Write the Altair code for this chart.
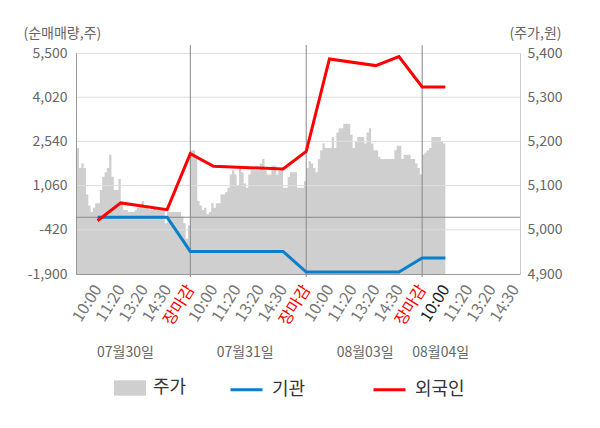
import altair as alt
import pandas as pd

FONT = "Noto Sans CJK KR"

# ---- data ----
time_labels = ["10:00", "11:20", "13:20", "14:30", "장마감"]
day_labels = ["07월30일", "07월31일", "08월03일", "08월04일"]
day_label_pos = [2.2, 7.37, 12.54, 15.8]
day_breaks = [5, 10, 15]

BARS_PER_DAY = 50
price_day1 = [5185, 5185, 5140, 5150, 5140, 5080, 5055, 5040, 5050, 5060,
              5060, 5090, 5120, 5130, 5140, 5170, 5120, 5090, 5090, 5115,
              5060, 5045, 5045, 5040, 5040, 5040, 5045, 5050, 5055, 5065,
              5055, 5055, 5045, 5045, 5050, 5050, 5050, 5045, 5045, 5015,
              5040, 5040, 5040, 5040, 5040, 5040, 5030, 5015, 4980, 5010]
price_day2 = [5180, 5180, 5170, 5065, 5055, 5045, 5050, 5035, 5040, 5060,
              5050, 5060, 5060, 5080, 5080, 5085, 5095, 5125, 5135, 5125,
              5100, 5140, 5130, 5105, 5095, 5125, 5135, 5135, 5135, 5135,
              5150, 5160, 5135, 5125, 5125, 5145, 5145, 5125, 5135, 5135,
              5095, 5095, 5120, 5130, 5130, 5130, 5095, 5095, 5095, 5110]
price_day3 = [5140, 5155, 5150, 5140, 5130, 5160, 5180, 5195, 5185, 5185,
              5185, 5210, 5185, 5220, 5230, 5230, 5240, 5240, 5240, 5215,
              5185, 5200, 5210, 5210, 5210, 5195, 5220, 5230, 5195, 5180,
              5180, 5165, 5160, 5160, 5160, 5160, 5160, 5160, 5180, 5190,
              5190, 5160, 5170, 5170, 5170, 5160, 5160, 5150, 5140, 5125]
price_day4 = [5170, 5175, 5180, 5185, 5210, 5210, 5210, 5210, 5200, 5195]

foreign_slot = [1, 2, 4, 5, 6, 9, 10, 11, 13, 14, 15, 16]
foreign_net = [-115, 480, 255, 2130, 1705, 1617, 2207, 5302, 5078, 5380, 4365, 4365]
inst_slot = [1, 4, 5, 9, 10, 14, 15, 16]
inst_net = [0, 0, -1143, -1143, -1833, -1833, -1364, -1364]

left_ticks = [-1900, -420, 1060, 2540, 4020, 5500]
right_ticks = [4900, 5000, 5100, 5200, 5300, 5400]

# ---- tables ----
rows = []
for d, arr in enumerate([price_day1, price_day2, price_day3, price_day4]):
    for i, p in enumerate(arr):
        rows.append({"pos": 5 * d + 5 * i / BARS_PER_DAY, "price": p, "series": "주가"})
rows.append({"pos": 15 + 5 * len(price_day4) / BARS_PER_DAY, "price": price_day4[-1], "series": "주가"})
price_df = pd.DataFrame(rows)

line_df = pd.concat([
    pd.DataFrame({"pos": inst_slot, "net": inst_net, "series": "기관"}),
    pd.DataFrame({"pos": foreign_slot, "net": foreign_net, "series": "외국인"}),
])
grid_df = pd.DataFrame({"v": left_ticks[1:-1]})
zero_df = pd.DataFrame({"v": [0]})
break_df = pd.DataFrame({"pos": day_breaks})
date_df = pd.DataFrame({"pos": day_label_pos, "label": day_labels})

W, H = 444, 221
NUM_EXPR = "replace(format(datum.value, ','), '\u2212', '-')"

label_js = "[" + ",".join("'%s'" % t for t in time_labels) + "]"
x_scale = alt.Scale(domain=[0.07, 19.22], nice=False, zero=False)
x_axis = alt.Axis(
    values=list(range(1, 20)),
    labelExpr=label_js + "[(round(datum.value) - 1) % 5]",
    labelAngle=302, labelAlign="right", labelBaseline="middle",
    labelFont=FONT, labelFontSize=16, labelPadding=12,
    labelColor={"condition": [
        {"test": "round(datum.value) % 5 === 0", "value": "#ff0000"},
        {"test": "round(datum.value) === 16", "value": "#222222"}],
        "value": "#777777"},
    labelFlush=False, labelOverlap=False, labelBound=False,
    ticks=False, grid=False, domainColor="#999999", title=None, zindex=1,
)


def X(field):
    return alt.X(field, type="quantitative", scale=x_scale, axis=x_axis)


left_scale = alt.Scale(domain=[-1900, 5500], nice=False, zero=False)
left_axis = alt.Axis(
    values=left_ticks, labelExpr=NUM_EXPR, orient="left", grid=False, ticks=False,
    domainColor="#999999", labelColor="#666666", labelFont=FONT, labelFontSize=14,
    labelPadding=9, title="(순매매량,주)", titleAngle=0, titleX=-53, titleY=-20,
    titleAlign="left", titleBaseline="middle", titleFontWeight="normal",
    titleFontSize=14, titleColor="#666666", titleFont=FONT, zindex=1,
)


def YL(field):
    return alt.Y(field, type="quantitative", scale=left_scale, axis=left_axis)


right_axis = alt.Axis(
    values=right_ticks, labelExpr=NUM_EXPR, orient="right", grid=False, ticks=False,
    domainColor="#cccccc", labelColor="#666666", labelFont=FONT, labelFontSize=14,
    labelPadding=7, title="(주가,원)", titleAngle=0, titleX=-11, titleY=-20,
    titleAlign="left", titleBaseline="middle", titleFontWeight="normal",
    titleFontSize=14, titleColor="#666666", titleFont=FONT, zindex=1,
)

area = alt.Chart(price_df).mark_area(interpolate="step-after", clip=True).encode(
    x=X("pos"),
    y=alt.Y("price:Q", scale=alt.Scale(domain=[4900, 5400], nice=False, zero=False), axis=right_axis),
    y2=alt.Y2(datum=4900),
    fill=alt.Fill("series:N", scale=alt.Scale(domain=["주가"], range=["#cfcfcf"]),
                  legend=alt.Legend(orient="none", legendX=38, legendY=319, title=None,
                                    symbolType="M-1,-0.48H1V0.48H-1Z", symbolSize=1024,
                                    symbolStrokeWidth=0, labelFont=FONT, labelFontSize=18,
                                    labelColor="#333333", labelOffset=7)),
)

grid = alt.Chart(grid_df).mark_rule(color="#dddddd", strokeWidth=1).encode(y=YL("v"))
zero = alt.Chart(zero_df).mark_rule(color="#888888", strokeWidth=1).encode(y=YL("v"))
breaks = alt.Chart(break_df).mark_rule(color="#888888", strokeWidth=1).encode(
    x=X("pos"), y=alt.value(-8), y2=alt.value(H + 3))
lines = alt.Chart(line_df).mark_line(strokeWidth=3).encode(
    x=X("pos"), y=YL("net"),
    stroke=alt.Stroke("series:N", scale=alt.Scale(domain=["기관", "외국인"], range=["#0a7ec8", "#ff0000"]),
                      legend=alt.Legend(orient="none", legendX=153, legendY=319, title=None,
                                        direction="horizontal", symbolType="stroke", symbolSize=1024,
                                        symbolStrokeWidth=3, columnPadding=61, labelFont=FONT,
                                        labelFontSize=18, labelColor="#333333", labelOffset=8)),
)
dates = alt.Chart(date_df).mark_text(font=FONT, fontSize=14, color="#666666", align="center",
                                     baseline="middle").encode(
    x=X("pos"), y=alt.value(300), text="label:N")

left_group = alt.layer(grid, zero, breaks, lines, dates)

chart = alt.layer(area, left_group).resolve_scale(y="independent").properties(
    width=W, height=H,
    autosize=alt.AutoSizeParams(type="none"),
    padding={"left": 68, "top": 45, "right": 72, "bottom": 140},
).configure_view(fill="#f4f4f4", strokeWidth=0).configure(font=FONT)

chart.save("out.html", embed_options={"renderer": "svg", "actions": False})
